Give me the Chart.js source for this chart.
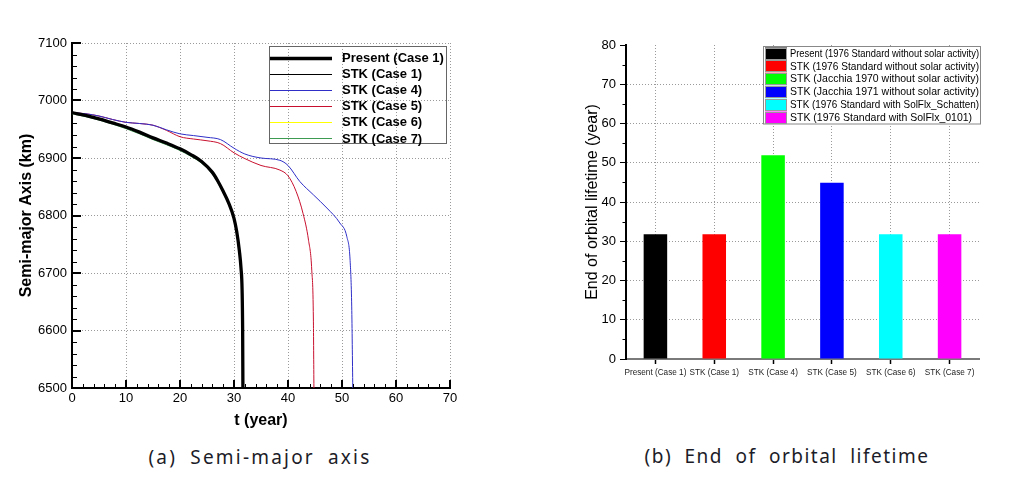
<!DOCTYPE html>
<html><head><meta charset="utf-8">
<script src="https://cdn.jsdelivr.net/npm/chart.js@4.4.0/dist/chart.umd.min.js"></script>
<style>
html,body{margin:0;padding:0;background:#fff;width:1022px;height:484px;overflow:hidden;position:relative;}
#c1{position:absolute;left:0;top:0;}
#c2{position:absolute;left:540px;top:0;}
.cap{position:absolute;font-family:'Noto Sans',sans-serif;font-size:19px;line-height:20px;color:#1c1c28;white-space:nowrap;transform:translateX(-50%);word-spacing:6px;}
</style></head><body>
<canvas id="c1" width="470" height="440"></canvas>
<canvas id="c2" width="482" height="440"></canvas>
<div class="cap" id="capA" style="left:260px;top:447px;letter-spacing:2.2px;">(a) Semi-major axis</div>
<div class="cap" id="capB" style="left:787px;top:446px;letter-spacing:1.5px;">(b) End of orbital lifetime</div>
<script>
// ---------- (a) Semi-major axis data ----------
const seriesLabelsA = ['Present (Case 1)', 'STK (Case 1)', 'STK (Case 4)', 'STK (Case 5)', 'STK (Case 6)', 'STK (Case 7)'];
const tCase1 = [0, 2.5, 5, 7.5, 10, 12.5, 15, 17.5, 20, 22, 24, 26, 27, 28, 29, 30, 30.5, 31, 31.3, 31.5, 31.6, 31.65];
const aPresent = [6979, 6974, 6968, 6961, 6954, 6945, 6935, 6926, 6916, 6906, 6894, 6875, 6860, 6842, 6822, 6795, 6772, 6738, 6708, 6670, 6600, 6500];
const aCase1 = [6979, 6974, 6968, 6961, 6954, 6945, 6935, 6926, 6916, 6906, 6894, 6875, 6860, 6842, 6822, 6795, 6772, 6738, 6708, 6670, 6600, 6500];
const aCase6 = [6979, 6974, 6968, 6961, 6954, 6945, 6935, 6926, 6916, 6906, 6894, 6875, 6860, 6842, 6822, 6795, 6772, 6738, 6708, 6670, 6600, 6500];
const aCase7 = [6977, 6972, 6966, 6959, 6951, 6942, 6932, 6923, 6913, 6903, 6891, 6872, 6857, 6839, 6819, 6792, 6769, 6735, 6705, 6667, 6597, 6500];
const tCase4 = [0, 2.5, 5, 7.5, 10, 12.5, 15, 17.5, 20, 22.5, 25, 27.5, 30, 32, 35, 38.5, 40, 42.2, 44.7, 47.2, 49.6, 50.9, 51.5, 51.8, 52.0];
const aCase4 = [6979, 6977, 6973, 6967, 6962, 6960, 6957, 6949, 6942, 6939, 6936, 6932, 6917, 6907, 6900, 6896, 6887, 6859, 6836, 6813, 6787, 6763, 6722, 6641, 6500];
const tCase5 = [0, 2.5, 5, 7.5, 10, 12.5, 15, 17.5, 20, 22.5, 25, 27.5, 30, 32, 35, 38.5, 40, 41.5, 42.8, 43.8, 44.4, 44.7, 44.8];
const aCase5 = [6979, 6977, 6973, 6967, 6962, 6960, 6957, 6948, 6937, 6933, 6930, 6925, 6909, 6899, 6887, 6879, 6869, 6842, 6803, 6757, 6705, 6620, 6500];

// ---------- (b) End of orbital lifetime data ----------
const barCategories = ['Present (Case 1)', 'STK (Case 1)', 'STK (Case 4)', 'STK (Case 5)', 'STK (Case 6)', 'STK (Case 7)'];
const lifetimeYears = [31.8, 31.8, 51.9, 44.9, 31.8, 31.8];
const barLegendLabels = [
  'Present (1976 Standard without solar activity)',
  'STK (1976 Standard without solar activity)',
  'STK (Jacchia 1970 without solar activity)',
  'STK (Jacchia 1971 without solar activity)',
  'STK (1976 Standard with SolFlx_Schatten)',
  'STK (1976 Standard with SolFlx_0101)'
];
const barColors = ['#000000', '#ff0000', '#00ff00', '#0000ff', '#00ffff', '#ff00ff'];

const FONT = '"Liberation Sans", Arial, sans-serif';
Chart.defaults.font.family = FONT;
Chart.defaults.color = '#000';
Chart.defaults.animation = false;

const pts = (t, a) => t.map((v, i) => ({x: v, y: a[i]}));

// tick marks (inner or outer) placed with the library's scales
function tickMarks(spec) {
  return {
    id: 'tickMarks',
    afterDraw(chart) {
      const ctx = chart.ctx;
      ctx.save();
      ctx.strokeStyle = '#000';
      spec.forEach(s => {
        const sc = chart.scales[s.axis];
        for (let v = s.min; v <= s.max + 1e-9; v += s.step) {
          const p = Math.round(sc.getPixelForValue(v)) + (s.w % 2 ? 0.5 : 0);
          ctx.lineWidth = s.w;
          ctx.beginPath();
          if (s.axis === 'x') {
            const y0 = chart.chartArea.bottom;
            ctx.moveTo(p, y0); ctx.lineTo(p, y0 + s.len);
          } else {
            const x0 = chart.chartArea.left;
            ctx.moveTo(x0, p); ctx.lineTo(x0 + s.len, p);
          }
          ctx.stroke();
        }
      });
      ctx.restore();
    }
  };
}

const legendA = {
  id: 'legendA',
  afterDraw(chart) {
    const ctx = chart.ctx;
    ctx.save();
    ctx.strokeStyle = '#666';
    ctx.lineWidth = 1;
    ctx.strokeRect(269.5, 46.5, 177, 97);
    ctx.font = 'bold 13px ' + FONT;
    ctx.textBaseline = 'middle';
    chart.data.datasets.forEach((ds, i) => {
      const y = 57.5 + i * 16.1;
      ctx.strokeStyle = ds.borderColor;
      ctx.lineWidth = ds.borderWidth;
      ctx.beginPath();
      ctx.moveTo(270, Math.round(y) + 0.5); ctx.lineTo(332, Math.round(y) + 0.5);
      ctx.stroke();
      ctx.fillStyle = '#000';
      ctx.fillText(ds.label, 342, y + 1);
    });
    ctx.restore();
  }
};

const legendB = {
  id: 'legendB',
  afterDraw(chart) {
    const ctx = chart.ctx;
    const ds = chart.data.datasets[0];
    ctx.save();
    ctx.fillStyle = '#fff';
    ctx.fillRect(223.5, 46.5, 217, 77.5);
    ctx.strokeStyle = '#888';
    ctx.lineWidth = 1;
    ctx.strokeRect(223.5, 46.5, 217, 77.5);
    ctx.font = '10.5px ' + FONT;
    ctx.textBaseline = 'middle';
    barLegendLabels.forEach((lab, i) => {
      const y = 47.5 + i * 12.8;
      ctx.fillStyle = ds.backgroundColor[i];
      ctx.fillRect(225, y, 22, 12);
      ctx.strokeStyle = '#999';
      ctx.strokeRect(225.5, Math.round(y) + 0.5, 21, 11);
      ctx.fillStyle = '#000';
      ctx.fillText(lab, 250, y + 6.5, 189);
    });
    ctx.restore();
  }
};

const gridDot = '#9a9a9a';
const plain = v => String(v);

new Chart(document.getElementById('c1'), {
  type: 'line',
  data: {
    datasets: [
      {label: seriesLabelsA[0], data: pts(tCase1, aPresent), borderColor: '#000', borderWidth: 3.3, order: 1},
      {label: seriesLabelsA[1], data: pts(tCase1, aCase1), borderColor: '#000', borderWidth: 1, order: 2},
      {label: seriesLabelsA[2], data: pts(tCase4, aCase4), borderColor: '#2f2fc8', borderWidth: 1, order: 3},
      {label: seriesLabelsA[3], data: pts(tCase5, aCase5), borderColor: '#c8102e', borderWidth: 1, order: 4},
      {label: seriesLabelsA[4], data: pts(tCase1, aCase6), borderColor: '#ffff00', borderWidth: 1, order: 5},
      {label: seriesLabelsA[5], data: pts(tCase1, aCase7), borderColor: '#3c9b50', borderWidth: 1, order: 6}
    ]
  },
  options: {
    responsive: false,
    devicePixelRatio: 1,
    elements: {point: {radius: 0}, line: {cubicInterpolationMode: 'monotone'}},
    layout: {padding: {left: 0, top: 43, right: 20, bottom: 0}},
    plugins: {legend: {display: false}, tooltip: {enabled: false}},
    scales: {
      x: {
        type: 'linear', min: 0, max: 70,
        ticks: {stepSize: 10, padding: 3, font: {size: 13}, color: '#000', callback: plain},
        grid: {color: gridDot, drawTicks: false, lineWidth: 1},
        border: {display: true, color: '#000', width: 2, dash: [1, 2]},
        title: {display: true, text: 't (year)', font: {size: 16, weight: 'bold'}, color: '#000', padding: {top: 0, bottom: 9.4}},
        afterFit(s) { s.height = 52; }
      },
      y: {
        type: 'linear', min: 6500, max: 7100,
        ticks: {stepSize: 100, padding: 5, font: {size: 13}, color: '#000', callback: plain},
        grid: {color: gridDot, drawTicks: false, lineWidth: 1},
        border: {display: true, color: '#000', width: 2, dash: [1, 2]},
        title: {display: true, text: 'Semi-major Axis (km)', font: {size: 16, weight: 'bold'}, color: '#000', padding: {top: 17.4, bottom: 0}},
        afterFit(s) { s.width = 72; }
      }
    }
  },
  plugins: [legendA, tickMarks([
    {axis: 'x', min: 0, max: 70, step: 10, len: -8, w: 2},
    {axis: 'x', min: 0, max: 70, step: 2, len: -4, w: 1},
    {axis: 'y', min: 6500, max: 7100, step: 100, len: 9, w: 2},
    {axis: 'y', min: 6500, max: 7100, step: 20, len: 5, w: 1}
  ])]
});

new Chart(document.getElementById('c2'), {
  type: 'bar',
  data: {
    labels: barCategories,
    datasets: [{
      label: 'End of orbital lifetime',
      data: lifetimeYears,
      backgroundColor: barColors,
      barPercentage: 0.4,
      categoryPercentage: 1.0
    }]
  },
  options: {
    responsive: false,
    devicePixelRatio: 1,
    layout: {padding: {left: 0, top: 45, right: 43, bottom: 0}},
    plugins: {legend: {display: false}, tooltip: {enabled: false}},
    scales: {
      x: {
        offset: true,
        ticks: {font: {size: 8.2}, color: '#222', padding: 4, maxRotation: 0, minRotation: 0, autoSkip: false},
        grid: {offset: false, color: gridDot, lineWidth: 1, drawTicks: true, tickLength: 5, tickColor: '#000', tickWidth: 1.5},
        border: {display: true, color: '#7a7a7a', width: 2, dash: [1, 2]},
        afterFit(s) { s.height = 81; }
      },
      y: {
        min: 0, max: 80,
        ticks: {stepSize: 10, padding: 4, font: {size: 13}, color: '#000'},
        grid: {color: c => (c.tick && c.tick.value === 80) ? 'rgba(0,0,0,0)' : gridDot, lineWidth: 1, drawTicks: true, tickLength: 6, tickColor: '#000', tickWidth: 1},
        border: {display: true, color: '#000', width: 2, dash: [1, 2]},
        title: {display: true, text: 'End of orbital lifetime (year)', font: {size: 16}, color: '#000', padding: {top: 43.4, bottom: 0}},
        afterFit(s) { s.width = 86; }
      }
    }
  },
  plugins: [legendB, tickMarks([
    {axis: 'y', min: 5, max: 75, step: 10, len: -3.5, w: 1}
  ])]
});
</script>
</body></html>
